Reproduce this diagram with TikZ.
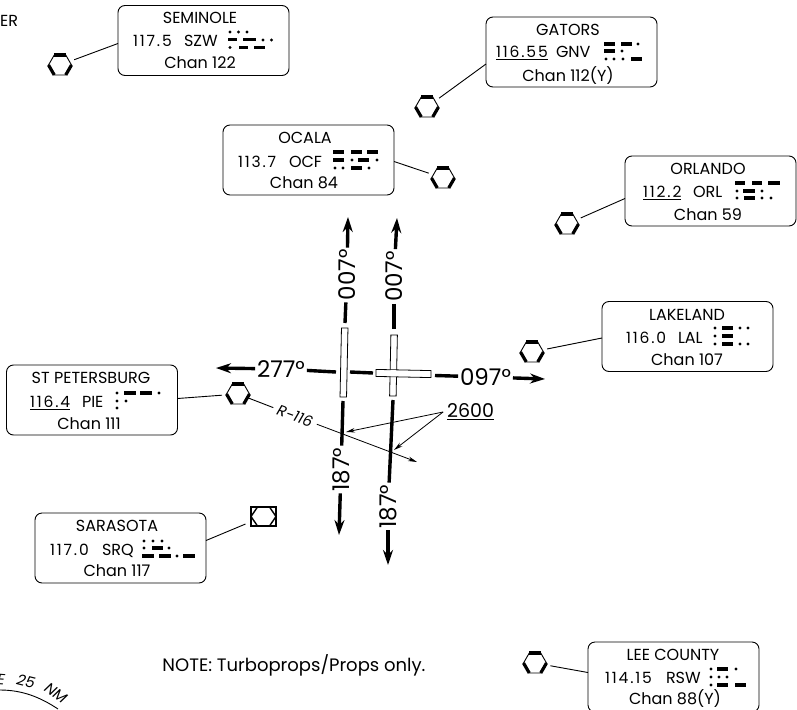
\documentclass[tikz,border=0pt]{standalone}
\usepackage{fontspec}
\setmainfont{Poppins}
\usetikzlibrary{arrows.meta}
\usetikzlibrary{positioning}
\usetikzlibrary{shapes.geometric}
\newcommand*{\boxfont}{\fontsize{16}{16}\selectfont}
\newcommand*{\freqfont}{\fontsize{15.5}{15.5}\selectfont\addfontfeature{LetterSpace=12}}
\newcommand*{\crsfont}{\fontsize{23}{23}\selectfont}
\tikzset{base/.style={x=1pt, y=-1pt, inner sep=0pt, outer sep=0pt, line width=0.9pt}}
\tikzset{navbox/.style={draw, rounded corners=7pt, minimum width=171pt, minimum height=70pt}}
\tikzset{navtext/.style={font=\boxfont, text height=11pt, text depth=0pt}}
\tikzset{freqtext/.style={font=\freqfont, anchor=west, text height=11pt, text depth=0pt}}
\tikzset{identtext/.style={navtext, anchor=west}}
\tikzset{vorsym/.style={draw, regular polygon, regular polygon sides=6, minimum size=23pt}}
\tikzset{vorbar/.style={line width=3.2pt}}
\tikzset{vorlink/.style={shorten <=5pt}}
\tikzset{rwy/.style={draw, fill=white, rotate=-1.2, line width=0.8pt}}
\tikzset{crslabel/.style={font=\crsfont, text height=16pt, text depth=0pt, outer sep=2pt}}
\tikzset{course/.style={line width=3.4pt}}
\tikzset{coursetip/.style={course, -{Stealth[length=15pt, width=10pt, inset=5pt]}}}
\tikzset{leader/.style={line width=0.8pt, -{Stealth[length=9pt, width=4.5pt]}}}
\newcommand*{\morsedots}[2]{\foreach \x in {#2} \fill (\x,#1) circle (1.7pt);}
\newcommand*{\morsebars}[2]{\foreach \a/\b in {#2} \fill (\a,#1-1.6) rectangle (\b,#1+1.6);}
\newcommand*{\vorhex}[3]{%
  \node [vorsym] (#1) at (#2,#3) {};
  \draw [vorbar] (#1.corner 1) -- (#1.corner 2);
  \draw [vorbar] (#1.corner 5) -- (#1.corner 6);
  \draw [vorbar] (#1.corner 3) -- (#1.corner 4);}
\begin{document}
\begin{tikzpicture}[base]
    \useasboundingbox (0,0) rectangle (797,709);
    \clip (0,0) rectangle (797,709);
    % navaid boxes
    \node [navbox] (boxSZW) at (203.5,40.5) {};
    \node [navtext] (titleSZW) at (200,18) {SEMINOLE};
    \node [freqtext] (freqSZW) at (133,41) {117.5};
    \node [identtext] (idSZW) at (184,41) {SZW};
    \node [navtext] (chanSZW) at (200,63) {Chan 122};
    \morsedots{32}{230,238.5,247}
    \morsedots{40}{263,271.5}
    \morsedots{47.5}{230}
    \morsebars{39.5}{228/237,243/256}
    \morsebars{47.5}{239/248,254/265}

    \node [navbox] (boxGNV) at (571.5,52) {};
    \node [navtext] (titleGNV) at (568,30) {GATORS};
    \node [freqtext] (freqGNV) at (496,52) {\underline{116.55}};
    \node [identtext] (idGNV) at (556,52) {GNV};
    \node [navtext] (chanGNV) at (568,76) {Chan 112(Y)};
    \morsebars{44}{604/615,621/632}
    \morsedots{44}{638}
    \morsebars{51}{604/615}
    \morsedots{51}{622}
    \morsedots{59}{606,614,623}
    \morsebars{59}{631/642}

    \node [navbox] (boxORL) at (710.5,191) {};
    \node [navtext] (titleORL) at (708,169) {ORLANDO};
    \node [freqtext] (freqORL) at (643,192) {\underline{112.2}};
    \node [identtext] (idORL) at (693,192) {ORL};
    \node [navtext] (chanORL) at (708,215) {Chan 59};
    \morsebars{183}{735/745,752/762,768/780}
    \morsedots{191}{737,762}
    \morsebars{191}{743/755}
    \morsedots{198}{737,762,771}
    \morsebars{198}{744/755}

    \node [navbox] (boxOCF) at (308.5,160) {};
    \node [navtext] (titleOCF) at (305,138) {OCALA};
    \node [freqtext] (freqOCF) at (238,162) {113.7};
    \node [identtext] (idOCF) at (289,162) {OCF};
    \node [navtext] (chanOCF) at (304,183) {Chan 84};
    \morsebars{152}{333/344,351/362,367/378}
    \morsebars{160}{333/344,358/369}
    \morsedots{160}{352,377}
    \morsedots{168}{335,343,369}
    \morsebars{168}{351/362}

    \node [navbox] (boxLAL) at (687.5,336.5) {};
    \node [navtext] (titleLAL) at (687,315) {LAKELAND};
    \node [freqtext] (freqLAL) at (626,338) {116.0};
    \node [identtext] (idLAL) at (678,338) {LAL};
    \node [navtext] (chanLAL) at (687,360) {Chan 107};
    \morsedots{328}{715,740,748}
    \morsebars{328}{722/733}
    \morsedots{336}{715}
    \morsebars{336}{722/733}
    \morsedots{344}{715,740,748}
    \morsebars{344}{722/733}

    \node [navbox] (boxPIE) at (92,400) {};
    \node [navtext] (titlePIE) at (91,378) {ST PETERSBURG};
    \node [freqtext] (freqPIE) at (30,402) {\underline{116.4}};
    \node [identtext] (idPIE) at (82,402) {PIE};
    \node [navtext] (chanPIE) at (89,424) {Chan 111};
    \morsedots{393}{117,159}
    \morsebars{393}{124/136,140/152}
    \morsedots{401}{117,126}
    \morsedots{408}{117}

    \node [navbox] (boxSRQ) at (120.5,548) {};
    \node [navtext] (titleSRQ) at (117,526) {SARASOTA};
    \node [freqtext] (freqSRQ) at (50,550) {117.0};
    \node [identtext] (idSRQ) at (102,550) {SRQ};
    \node [navtext] (chanSRQ) at (117,571) {Chan 117};
    \morsedots{541}{144,153,162}
    \morsedots{548}{144,169}
    \morsebars{548}{152/163}
    \morsebars{556}{142/154,159/171,183/195}
    \morsedots{556}{177}

    \node [navbox] (boxRSW) at (673.5,677) {};
    \node [navtext] (titleRSW) at (673,655) {LEE COUNTY};
    \node [freqtext] (freqRSW) at (605,678) {114.15};
    \node [identtext] (idRSW) at (666,678) {RSW};
    \node [navtext] (chanRSW) at (675,699) {Chan 88(Y)};
    \morsedots{669}{711,736}
    \morsebars{669}{717/728}
    \morsedots{677}{711,719,727}
    \morsedots{685}{711}
    \morsebars{685}{717/728,735/746}

    % vor symbols
    \vorhex{vorSZW}{60}{65}
    \vorhex{vorGNV}{427}{107}
    \vorhex{vorORL}{567}{224}
    \vorhex{vorOCF}{443}{178}
    \vorhex{vorLAL}{532}{352}
    \vorhex{vorPIE}{238}{394}
    \vorhex{vorRSW}{535}{663}
    \node [draw, line width=2.4pt, minimum width=25pt, minimum height=19pt] (vorSRQ) at (263.5,516.5) {};
    \draw [line width=1.4pt] ([xshift=6.5pt]vorSRQ.north west) -- (vorSRQ.west) -- ([xshift=6.5pt]vorSRQ.south west);
    \draw [line width=1.4pt] ([xshift=-6.5pt]vorSRQ.north east) -- (vorSRQ.east) -- ([xshift=-6.5pt]vorSRQ.south east);

    \draw [vorlink] (vorSZW) -- (boxSZW.182);
    \draw [vorlink] (vorGNV) -- (boxGNV.188);
    \draw [vorlink] (vorORL) -- (boxORL.185);
    \draw [vorlink] (vorOCF) -- (boxOCF.359);
    \draw [vorlink] (vorLAL) -- (boxLAL.181);
    \draw [vorlink] (vorPIE) -- (boxPIE.1);
    \draw [vorlink] (vorRSW) -- (boxRSW.177);
    \draw [vorlink, shorten <=6pt] (vorSRQ) -- (boxSRQ.5);

    % runways
    \node [rwy, minimum width=6.5pt, minimum height=69pt] (rwyL) at (344,362.5) {};
    \node [rwy, minimum width=6.5pt, minimum height=61pt] (rwyV) at (393.5,365.5) {};
    \node [rwy, minimum width=55pt, minimum height=7pt] (rwyH) at (403.5,373.5) {};
    \node [rotate=-1.2, fill=white, minimum width=5.7pt, minimum height=6.2pt] (rwyX) at (393.5,373.3) {};

    % courses
    \node [crslabel, rotate=90] (crsA) at (347,275) {007°};
    \node [crslabel, rotate=90] (crsB) at (394,276.5) {007°};
    \node [crslabel, rotate=90] (crsC) at (341,469.5) {187°};
    \node [crslabel, rotate=90] (crsD) at (388,506.5) {187°};
    \node [crslabel] (crsE) at (281,369) {277°};
    \node [crslabel] (crsF) at (485.5,377) {097°};
    \coordinate (tipA) at (348,217);
    \coordinate (tipB) at (397,218);
    \coordinate (tipC) at (339,535);
    \coordinate (tipD) at (388,565);
    \coordinate (tipE) at (216,368);
    \coordinate (tipF) at (545,379);
    \coordinate (endA) at (345,323);
    \coordinate (endB) at (394,329);
    \coordinate (endC) at (343,401);
    \coordinate (endD) at (393,400);
    \coordinate (endE) at (336,372);
    \coordinate (endF) at (435,375.5);
    \coordinate (midA) at (350,372);
    \coordinate (midB) at (373,373);
    \draw [coursetip] (crsA) -- (tipA);
    \draw [coursetip] (crsB) -- (tipB);
    \draw [coursetip] (crsC) -- (tipC);
    \draw [coursetip] (crsD) -- (tipD);
    \draw [coursetip] (crsE) -- (tipE);
    \draw [coursetip] (crsF) -- (tipF);
    \draw [course] (crsA) -- (endA);
    \draw [course] (crsB) -- (endB);
    \draw [course] (crsC) -- (endC);
    \draw [course] (crsD) -- (endD);
    \draw [course] (crsE) -- (endE);
    \draw [course] (crsF) -- (endF);
    \draw [course] (midA) -- (midB);

    % radial and altitude
    \node [font=\fontsize{15}{15}\selectfont\itshape, rotate=-20, outer sep=5pt] (radial) at (295,416) {R-116};
    \coordinate (tipR) at (417,462);
    \draw [vorlink, shorten <=0pt] (vorPIE) -- (radial);
    \draw [leader] (radial) -- (tipR);
    \node [font=\fontsize{19}{19}\selectfont, outer sep=4pt] (alt) at (470.5,412) {\underline{2600}};
    \coordinate (altA) at (346,432);
    \coordinate (altB) at (394,450);
    \draw [leader] (alt.west) -- (altA);
    \draw [leader] (alt.west) -- (altB);

    % note and cut off texts
    \node [font=\fontsize{18}{18}\selectfont] (note) at (294,665) {NOTE: Turboprops/Props only.};
    \node [font=\boxfont, anchor=east] (cutter) at (18,21) {TER};
    \node [font=\fontsize{15}{15}\selectfont\itshape, rotate=-4] (arcE) at (1,680) {E};
    \node [font=\fontsize{15}{15}\selectfont\itshape, rotate=-14] (arcNum) at (26,681) {25};
    \node [font=\fontsize{15}{15}\selectfont\itshape, rotate=-36] (arcNM) at (56,693) {NM};
    \draw (0,690) .. controls (22,690) and (40,697) .. (58,709);
\end{tikzpicture}
\end{document}
